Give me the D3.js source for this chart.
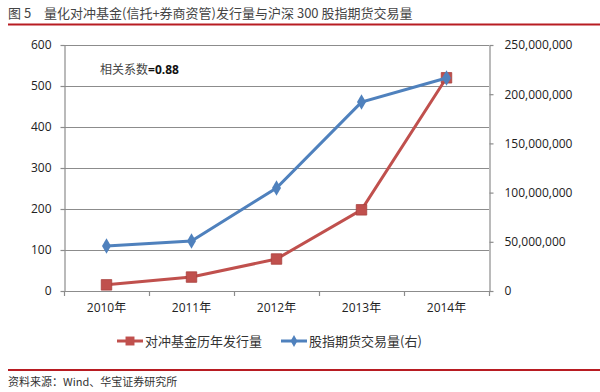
<!DOCTYPE html>
<html>
<head>
<meta charset="utf-8">
<script src="https://cdn.jsdelivr.net/npm/d3@7"></script>
<style>
  body { margin: 0; background: #fff; }
  svg { display: block; }
  .tick text { font-family: "Open Sans", "Liberation Sans", sans-serif; font-size: 12px; fill: #222; }
  .cjk { font-family: "Noto Sans CJK SC", sans-serif; }
</style>
</head>
<body>
<svg id="chart" width="600" height="392"></svg>
<script>
// data
const years = ['2010年', '2011年', '2012年', '2013年', '2014年']
const fundIssuance = [15, 34, 78, 198, 520]           // left axis
const futuresVolume = [45700000, 50800000, 104700000, 192000000, 216500000] // right axis
const leftTicks = [0, 100, 200, 300, 400, 500, 600]
const rightTicks = [0, 50000000, 100000000, 150000000, 200000000, 250000000]

const RED = '#C0504D'
const BLUE = '#4F81BD'
const GRID = '#8c8c8c'

const svg = d3.select('#chart')
const plot = {left: 64, right: 489, top: 45, bottom: 291}

// scales
const x = d3.scaleBand().domain(years).range([plot.left, plot.right])
const yL = d3.scaleLinear().domain([0, 600]).range([plot.bottom, plot.top])
const yR = d3.scaleLinear().domain([0, 250000000]).range([plot.bottom, plot.top])

// title + rule
svg.append('text').attr('class', 'cjk')
    .attr('x', 8).attr('y', 18)
    .style('font-size', '13px').style('fill', '#444')
    .text('图 5')
svg.append('text').attr('class', 'cjk')
    .attr('x', 44).attr('y', 18)
    .style('font-size', '13px').style('fill', '#444')
    .text('量化对冲基金(信托+券商资管)发行量与沪深 300 股指期货交易量')
svg.append('rect').attr('x', 8).attr('y', 23.5).attr('width', 592).attr('height', 2).attr('fill', '#b81c22')

// gridlines
svg.append('g').selectAll('line').data(leftTicks.slice(1))
    .join('line')
    .attr('x1', plot.left).attr('x2', plot.right)
    .attr('y1', d => yL(d) + 0.5).attr('y2', d => yL(d) + 0.5)
    .attr('stroke', GRID).attr('stroke-width', 1.2)

// axes
const axisL = svg.append('g').attr('transform', `translate(${plot.left + 0.5},0)`)
    .call(d3.axisLeft(yL).tickValues(leftTicks).tickSize(4).tickPadding(9).tickSizeOuter(0))
const axisR = svg.append('g').attr('transform', `translate(${plot.right + 0.5},0)`)
    .call(d3.axisRight(yR).tickValues(rightTicks).tickSize(4).tickPadding(11).tickSizeOuter(0)
        .tickFormat(d3.format(',')))
const axisB = svg.append('g').attr('transform', `translate(0,${plot.bottom + 0.5})`)
    .call(d3.axisBottom(x).tickSize(0).tickPadding(12))
// category boundary ticks
svg.append('g').selectAll('line').data(years.concat(['end']))
    .join('line')
    .attr('x1', (d, i) => (i < years.length ? x(d) : plot.right) + 0.5)
    .attr('x2', (d, i) => (i < years.length ? x(d) : plot.right) + 0.5)
    .attr('y1', plot.bottom).attr('y2', plot.bottom + 5)
    .attr('stroke', GRID).attr('stroke-width', 1.2)
;[axisL, axisR, axisB].forEach(a => {
    a.select('.domain').attr('stroke', GRID).attr('stroke-width', 1.2)
    a.selectAll('.tick line').attr('stroke', GRID).attr('stroke-width', 1.2)
})
axisB.selectAll('.tick text').style('font-size', '12px').style('fill', '#222')
    .style('font-family', '"Open Sans", "Noto Sans CJK SC", sans-serif')
axisB.select('.domain').attr('d', `M${plot.left},0H${plot.right}`)

// lines (red first, blue drawn on top)
const cx = d => x(d) + x.bandwidth() / 2
const lineL = d3.line().x((d, i) => cx(years[i])).y(d => yL(d))
const lineR = d3.line().x((d, i) => cx(years[i])).y(d => yR(d))

const diamond = d3.symbol().type(d3.symbolDiamond).size(70)
const square = d3.symbol().type(d3.symbolSquare).size(110)

svg.append('path').datum(fundIssuance).attr('d', lineL)
    .attr('fill', 'none').attr('stroke', RED).attr('stroke-width', 3)
svg.append('g').selectAll('path').data(fundIssuance).join('path')
    .attr('d', square)
    .attr('transform', (d, i) => `translate(${cx(years[i])},${yL(d)})`)
    .attr('fill', RED).attr('stroke', '#a8403d').attr('stroke-width', 0.8)

svg.append('path').datum(futuresVolume).attr('d', lineR)
    .attr('fill', 'none').attr('stroke', BLUE).attr('stroke-width', 3)
svg.append('g').selectAll('path').data(futuresVolume).join('path')
    .attr('d', diamond)
    .attr('transform', (d, i) => `translate(${cx(years[i])},${yR(d)})`)
    .attr('fill', BLUE)

// correlation note
const note = svg.append('text').attr('x', 100).attr('y', 74).style('font-size', '12px')
note.append('tspan').attr('class', 'cjk').style('fill', '#444').text('相关系数')
note.append('tspan').style('font-family', '"Open Sans", sans-serif').style('font-weight', 'bold')
    .style('fill', '#111').text('=0.88')

// legend
const legend = svg.append('g').attr('transform', 'translate(0,341)')
const items = [
    {label: '对冲基金历年发行量', color: RED, sym: d3.symbol().type(d3.symbolSquare).size(80), x: 117},
    {label: '股指期货交易量(右)', color: BLUE, sym: d3.symbol().type(d3.symbolDiamond).size(40), x: 281}
]
items.forEach(it => {
    legend.append('line').attr('x1', it.x).attr('x2', it.x + 26).attr('y1', 0).attr('y2', 0)
        .attr('stroke', it.color).attr('stroke-width', 3)
    legend.append('path').attr('d', it.sym).attr('transform', `translate(${it.x + 13},0)`)
        .attr('fill', it.color)
    legend.append('text').attr('class', 'cjk').attr('x', it.x + 28).attr('y', 5)
        .style('font-size', '13px').style('fill', '#333').text(it.label)
})

// bottom rule + source
svg.append('rect').attr('x', 8).attr('y', 369).attr('width', 592).attr('height', 2).attr('fill', '#b81c22')
svg.append('text').attr('class', 'cjk').attr('x', 8).attr('y', 386)
    .style('font-size', '11px').style('fill', '#333')
    .text('资料来源：Wind、华宝证券研究所')
</script>
</body>
</html>
